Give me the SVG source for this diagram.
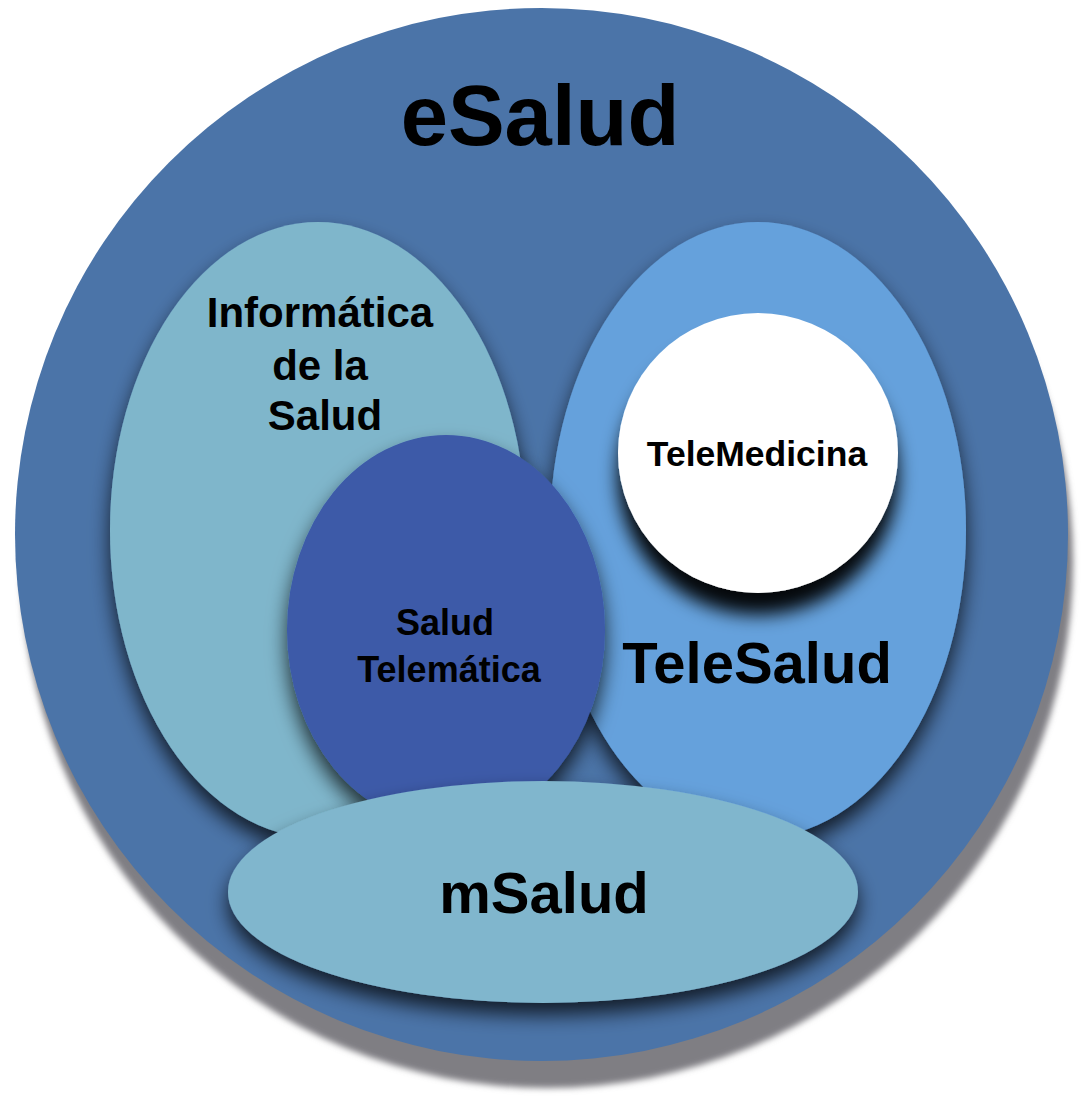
<svg xmlns="http://www.w3.org/2000/svg" width="1081" height="1108" viewBox="0 0 1081 1108">
  <style>
    .lbl { font-family: "Liberation Sans", Arial, sans-serif; font-weight: bold; fill: #000; text-anchor: middle; }
  </style>
  <defs>
    <filter id="outerShadow" x="-10%" y="-10%" width="120%" height="120%">
      <feGaussianBlur stdDeviation="3"/>
    </filter>
    <filter id="drop" x="-20%" y="-20%" width="140%" height="140%">
      <feDropShadow dx="0" dy="12" stdDeviation="10" flood-color="#000" flood-opacity="0.75"/>
    </filter>
    <filter id="dropStrong" x="-30%" y="-30%" width="160%" height="170%">
      <feDropShadow dx="0" dy="22" stdDeviation="9" flood-color="#000" flood-opacity="0.95"/>
    </filter>
  </defs>
  <rect width="1081" height="1108" fill="#ffffff"/>

  <g id="eSalud">
    <circle cx="547" cy="562" r="526" fill="#7f7e83" filter="url(#outerShadow)"/>
    <circle cx="541.5" cy="534.5" r="526.5" fill="#4b74a8"/>
    <text class="lbl" x="540" y="145" font-size="85">eSalud</text>
  </g>

  <g id="informatica">
    <ellipse cx="318" cy="530" rx="208" ry="308" fill="#7fb6cb" filter="url(#drop)"/>
    <text class="lbl" x="320" y="327" font-size="42">Informática</text>
    <text class="lbl" x="320" y="380" font-size="42">de la</text>
    <text class="lbl" x="325" y="430" font-size="42">Salud</text>
  </g>

  <g id="telesalud">
    <ellipse cx="758" cy="530" rx="208" ry="308" fill="#65a1dc" filter="url(#drop)"/>
    <text class="lbl" x="757" y="683" font-size="58">TeleSalud</text>
  </g>

  <g id="telemedicina">
    <circle cx="758" cy="453" r="140" fill="#ffffff" filter="url(#dropStrong)"/>
    <text class="lbl" x="757" y="466" font-size="35.5">TeleMedicina</text>
  </g>

  <g id="salud-telematica">
    <ellipse cx="446" cy="630" rx="159" ry="195" fill="#3c5aa8" filter="url(#drop)"/>
    <text class="lbl" x="445" y="635" font-size="36">Salud</text>
    <text class="lbl" x="449" y="682" font-size="36">Telemática</text>
  </g>

  <g id="msalud">
    <ellipse cx="543" cy="892" rx="315" ry="111" fill="#80b6cd" filter="url(#drop)"/>
    <text class="lbl" x="544" y="913" font-size="58">mSalud</text>
  </g>

  <g id="connectors"></g>
</svg>
